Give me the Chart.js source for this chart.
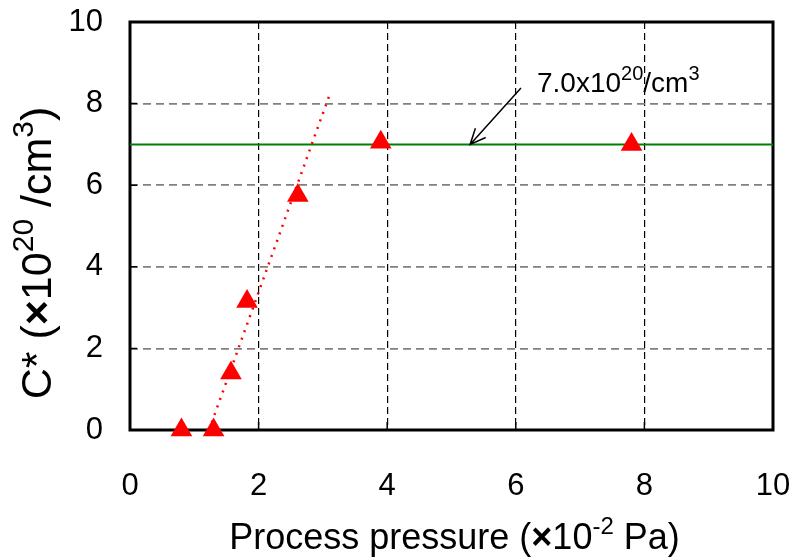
<!DOCTYPE html>
<html>
<head>
<meta charset="utf-8">
<script src="https://cdn.jsdelivr.net/npm/chart.js@4.4.0/dist/chart.umd.min.js"></script>
<style>
  html, body { margin: 0; padding: 0; background: #ffffff; }
  #wrap { width: 795px; height: 559px; }
</style>
</head>
<body>
<div id="wrap"><canvas id="c" width="795" height="559"></canvas></div>
<script>
// Measured C* versus process pressure
const pressure = [0.8, 1.3, 1.57, 1.82, 2.61, 3.9, 7.8];
const concentration = [0, 0, 1.4, 3.15, 5.75, 7.05, 7.0];

// Dotted trend through the rising points
const trendX = [1.23, 3.1];
const trendY = [0, 8.2];

// Saturation level
const saturationX = [0, 10];
const saturationY = [7.0, 7.0];

// Axis ticks
const xTicks = [0, 2, 4, 6, 8, 10];
const yTicks = [0, 2, 4, 6, 8, 10];

// Annotation: label anchor and arrow (data units)
const noteAt = [6.33, 8.28];
const arrowFrom = [6.08, 8.38];
const arrowTo = [5.29, 7.0];

const FONT = '"Liberation Sans", Arial, sans-serif';
const TICK_PX = 31;
const XTITLE_PX = 36;
const YTITLE_PX = 43;
const NOTE_PX = 28;

const zip = (xs, ys) => xs.map((x, i) => ({ x: x, y: ys[i] }));

// Draws a run of text pieces, some raised as superscripts
function richText(ctx, parts, x, y, size, align, supScale) {
  const supSize = Math.round(size * (supScale || 0.65));
  const fontOf = p => (p.bold ? 'bold ' : '') + (p.sup ? supSize : size) + 'px ' + FONT;
  let total = 0;
  parts.forEach(p => { ctx.font = fontOf(p); total += ctx.measureText(p.t).width; });
  let cx = align === 'center' ? x - total / 2 : x;
  ctx.textAlign = 'left';
  ctx.textBaseline = 'alphabetic';
  parts.forEach(p => {
    ctx.font = fontOf(p);
    ctx.fillText(p.t, cx, p.sup ? y - size * 0.42 : y);
    cx += ctx.measureText(p.t).width;
  });
}

// Keep the plot rectangle fixed: no extra room reserved for edge labels
function noEdgePadding(s) {
  s.paddingLeft = 0; s.paddingRight = 0; s.paddingTop = 0; s.paddingBottom = 0;
}

const framePlugin = {
  id: 'frame',
  beforeDatasetsDraw(chart) {
    const { ctx, chartArea: a, scales } = chart;
    ctx.save();
    ctx.strokeStyle = '#000';
    // inward tick marks
    ctx.lineWidth = 1.5;
    ctx.beginPath();
    yTicks.forEach(v => {
      const py = scales.y.getPixelForValue(v);
      ctx.moveTo(a.left, py); ctx.lineTo(a.left + 7, py);
    });
    xTicks.forEach(v => {
      const px = scales.x.getPixelForValue(v);
      ctx.moveTo(px, a.bottom); ctx.lineTo(px, a.bottom - 8);
    });
    ctx.stroke();
    // plot frame
    ctx.lineWidth = 3;
    ctx.strokeRect(a.left, a.top, a.right - a.left, a.bottom - a.top);
    ctx.restore();
  },
  afterDraw(chart) {
    const { ctx, chartArea: a, scales } = chart;
    ctx.save();
    ctx.fillStyle = '#000';
    // x axis title
    richText(ctx, [
      { t: 'Process pressure (' },
      { t: '\u00d7', bold: true },
      { t: '10' },
      { t: '-2', sup: true },
      { t: ' Pa)' }
    ], (a.left + a.right) / 2 + 3, 549, XTITLE_PX, 'center', 0.68);
    // y axis title
    ctx.save();
    ctx.translate(51, (a.top + a.bottom) / 2 + 27);
    ctx.rotate(-Math.PI / 2);
    richText(ctx, [
      { t: 'C* (' },
      { t: '\u00d7', bold: true },
      { t: '10' },
      { t: '20', sup: true },
      { t: ' /cm' },
      { t: '3', sup: true },
      { t: ')' }
    ], 0, 0, YTITLE_PX, 'center', 0.7);
    ctx.restore();
    // annotation label
    const nx = scales.x.getPixelForValue(noteAt[0]);
    const ny = scales.y.getPixelForValue(noteAt[1]);
    richText(ctx, [
      { t: '7.0x10' },
      { t: '20', sup: true },
      { t: '/cm' },
      { t: '3', sup: true }
    ], nx, ny, NOTE_PX, 'left', 0.7);
    // annotation arrow
    const x0 = scales.x.getPixelForValue(arrowFrom[0]);
    const y0 = scales.y.getPixelForValue(arrowFrom[1]);
    const x1 = scales.x.getPixelForValue(arrowTo[0]);
    const y1 = scales.y.getPixelForValue(arrowTo[1]);
    const ang = Math.atan2(y1 - y0, x1 - x0);
    const head = 17, spread = 0.42;
    ctx.strokeStyle = '#000';
    ctx.lineWidth = 1.5;
    ctx.beginPath();
    ctx.moveTo(x0, y0); ctx.lineTo(x1, y1);
    ctx.moveTo(x1 - head * Math.cos(ang - spread), y1 - head * Math.sin(ang - spread));
    ctx.lineTo(x1, y1);
    ctx.lineTo(x1 - head * Math.cos(ang + spread), y1 - head * Math.sin(ang + spread));
    ctx.stroke();
    ctx.restore();
  }
};

new Chart(document.getElementById('c'), {
  type: 'scatter',
  data: {
    datasets: [
      {
        label: 'Saturation',
        data: zip(saturationX, saturationY),
        showLine: true,
        borderColor: '#008000',
        borderWidth: 2,
        pointRadius: 0,
        order: 3
      },
      {
        label: 'Trend',
        data: zip(trendX, trendY),
        showLine: true,
        borderColor: '#ff0000',
        borderWidth: 2.5,
        borderDash: [2, 6],
        pointRadius: 0,
        order: 2
      },
      {
        label: 'C*',
        data: zip(pressure, concentration),
        pointStyle: 'triangle',
        pointRadius: 12.5,
        pointHoverRadius: 12.5,
        backgroundColor: '#ff0000',
        borderColor: '#ff0000',
        borderWidth: 0,
        clip: false,
        order: 1
      }
    ]
  },
  options: {
    responsive: false,
    animation: false,
    devicePixelRatio: 1,
    layout: { padding: { left: 0, right: 22, top: 22, bottom: 0 } },
    plugins: { legend: { display: false }, tooltip: { enabled: false } },
    scales: {
      x: {
        type: 'linear',
        min: 0, max: 10,
        afterFit(s) { s.height = 129; noEdgePadding(s); },
        afterBuildTicks(s) { s.ticks = xTicks.map(v => ({ value: v })); },
        ticks: {
          color: '#000',
          font: { family: FONT, size: TICK_PX },
          padding: 38,
          maxRotation: 0
        },
        grid: { color: '#000', lineWidth: 1.2, drawTicks: false },
        border: { display: false, dash: [7, 4] }
      },
      y: {
        type: 'linear',
        min: 0, max: 10,
        afterFit(s) { s.width = 130; noEdgePadding(s); },
        afterBuildTicks(s) { s.ticks = yTicks.map(v => ({ value: v })); },
        ticks: {
          color: '#000',
          font: { family: FONT, size: TICK_PX },
          padding: 27
        },
        grid: { color: '#808080', lineWidth: 1.8, drawTicks: false },
        border: { display: false, dash: [8, 5] }
      }
    }
  },
  plugins: [framePlugin]
});
</script>
</body>
</html>
